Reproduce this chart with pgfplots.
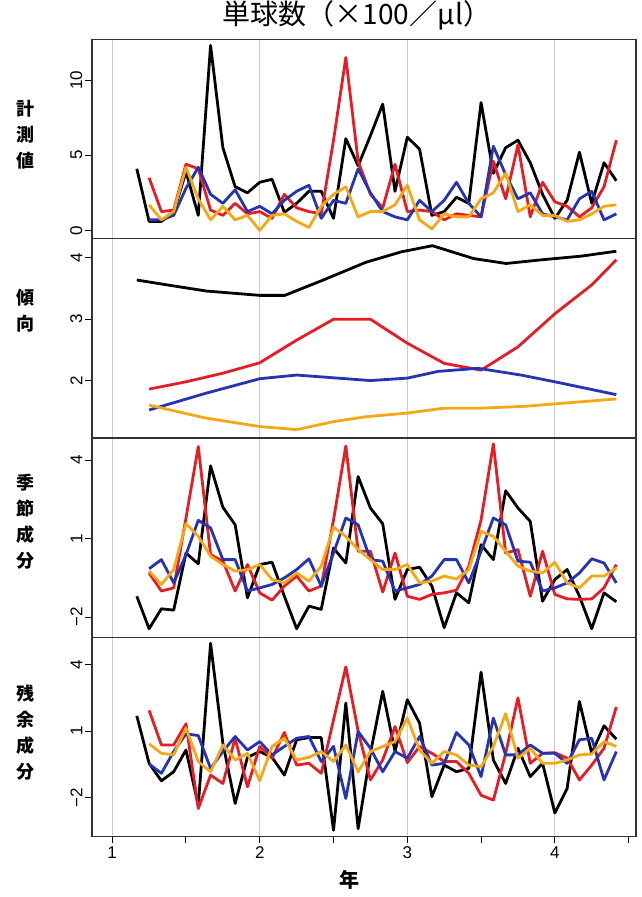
\documentclass[border=0pt]{standalone}
\usepackage{fontspec}
\setmainfont{Liberation Sans}
\newfontfamily\jp{Noto Sans CJK JP}
\usepackage{pgfplots}
\usepackage{pgfplotstable}
\pgfplotsset{compat=1.18}
\definecolor{cbk}{RGB}{0,0,0}
\definecolor{crd}{RGB}{232,28,36}
\definecolor{cbl}{RGB}{36,52,178}
\definecolor{cor}{RGB}{245,168,20}

\pgfplotstableread{
t      bk    rd    bl    or
1.1667 4.1   nan   nan   nan
1.25   0.6   3.5   0.7   1.7
1.3333 0.6   1.25  0.7   0.7
1.4167 1.2   1.35  1.0   1.25
1.5    3.9   4.4   2.8   4.2
1.5833 1.0   4.1   4.2   2.1
1.6667 12.3  1.35  2.4   0.7
1.75   5.5   1.0   1.8   1.6
1.8333 2.9   1.8   2.7   0.7
1.9167 2.5   1.1   1.25  1.0
2.0    3.2   1.25  1.6   0.0
2.0833 3.4   0.8   1.1   1.0
2.1667 1.2   2.4   2.0   1.1
2.25   1.8   1.5   2.6   0.6
2.3333 2.6   1.25  3.0   0.2
2.4167 2.6   1.1   0.8   1.6
2.5    0.8   6.0   2.0   2.4
2.5833 6.1   11.5  1.8   2.9
2.6667 4.3   4.6   4.1   0.9
2.75   6.3   2.4   2.5   1.25
2.8333 8.4   1.5   1.25  1.25
2.9167 2.6   4.4   0.9   1.7
3.0    6.2   1.25  0.7   3.0
3.0833 5.4   1.35  2.0   0.7
3.1667 1.0   1.25  1.25  0.1
3.25   1.25  0.7   2.0   1.1
3.3333 2.2   1.1   3.2   0.9
3.4167 1.8   1.0   1.8   0.9
3.5    8.5   0.9   0.9   2.1
3.5833 3.8   4.6   5.6   2.5
3.6667 5.5   2.1   3.7   3.8
3.75   6.0   5.7   2.1   1.25
3.8333 4.5   0.9   2.5   1.7
3.9167 2.4   3.2   1.1   1.0
4.0    0.8   1.9   0.9   1.0
4.0833 2.0   1.6   0.7   0.6
4.1667 5.2   0.9   2.1   0.7
4.25   1.8   1.5   2.6   1.1
4.3333 4.5   2.9   0.7   1.6
4.4167 3.3   6.0   1.1   1.7
}\obs

\pgfplotstableread{
t      bk     rd     bl     or
1.1667 -1.2   nan    nan    nan
1.25   -2.44  -0.31  -0.15  -0.24
1.3333 -1.68  -1.0   0.2    -0.75
1.4167 -1.73  -0.88  -0.69  -0.18
1.5    0.45   1.79   0.39   1.57
1.5833 0.04   4.52   1.7    1.09
1.6667 3.78   0.39   1.41   0.33
1.75   2.2    0.14   0.2    0.01
1.8333 1.53   -1.0   0.2    -0.24
1.9167 -1.26  0.01   -1.0   -0.18
2.0    0.01   -1.07  -0.88  0.01
2.0833 0.1    -1.35  -0.75  -0.56
2.1667 -1.2   -0.81  -0.5   -0.69
2.25   -2.44  -0.43  -0.18  -0.31
2.3333 -1.58  -1.0   0.23   -0.62
2.4167 -1.7   -0.81  -0.81  -0.05
2.5    0.64   1.72   0.45   1.44
2.5833 0.07   4.54   1.79   1.09
2.6667 3.37   0.52   1.53   0.58
2.75   2.17   0.52   0.2    0.2
2.8333 1.57   -1.04  0.14   -0.18
2.9167 -1.32  0.45   -1.0   -0.18
3.0    -0.18  -1.2   -0.88  0.01
3.0833 -0.09  -1.32  -0.75  -0.69
3.1667 -0.81  -1.13  -0.43  -0.62
3.25   -2.4   -1.07  0.2    -0.43
3.3333 -1.07  -0.97  0.2    -0.54
3.4167 -1.45  -0.05  -0.69  -0.18
3.5    0.77   1.72   0.52   1.28
3.5833 0.2    4.62   1.79   1.09
3.6667 2.83   0.45   1.53   0.52
3.75   2.17   0.58   0.14   -0.05
3.8333 1.66   -1.2   0.1    -0.24
3.9167 -1.39  0.52   -1.0   -0.31
4.0    -0.56  -1.13  -0.88  0.1
4.0833 -0.18  -1.3   -0.69  -0.69
4.1667 -1.2   -1.32  -0.31  -0.88
4.25   -2.44  -1.3   0.23   -0.43
4.3333 -1.07  -0.88  0.07   -0.43
4.4167 -1.41  0.01   -0.69  -0.12
}\seas

\pgfplotstableread{
t      bk     rd     bl     or
1.1667 1.69   nan    nan    nan
1.25   -0.45  1.94   -0.48  0.43
1.3333 -1.24  0.38   -0.9   0.0
1.4167 -0.83  0.38   0.08   -0.07
1.5    0.15   1.33   0.88   1.14
1.5833 -2.34  -2.49  0.8    -0.37
1.6667 4.96   -0.98  -0.68  -0.83
1.75   0.46   -1.36  0.08   0.38
1.8333 -2.26  0.68   0.76   -0.3
1.9167 -0.18  -1.51  0.15   0.0
2.0    0.08   0.31   0.53   -1.24
2.0833 -0.18  -0.22  -0.07  0.31
2.1667 -0.98  0.94   0.31   0.68
2.25   0.61   -0.53  0.68   -0.3
2.3333 0.71   -0.45  0.76   -0.18
2.4167 0.71   -0.9   -0.37  0.08
2.5    -3.47  1.51   0.31   -0.37
2.5833 2.27   3.9    -2.04  0.38
2.6667 -3.4   1.0    0.98   -0.83
2.75   0.0    -1.2   0.23   0.08
2.8333 2.8    -0.3   -0.83  0.31
2.9167 0.08   1.21   0.08   0.53
3.0    2.42   -0.42  -0.22  1.59
3.0833 1.36   0.31   0.76   0.15
3.1667 -1.96  0.0    -0.53  -0.45
3.25   -0.53  -0.37  -0.45  0.08
3.3333 -0.83  -0.37  0.94   -0.07
3.4167 -0.68  -0.9   0.38   -0.53
3.5    3.66   -1.89  -1.05  -0.6
3.5833 -0.3   -2.11  1.59   0.31
3.6667 -1.36  0.0    -0.07  1.79
3.75   0.23   2.5    -0.07  -0.22
3.8333 -1.05  -0.45  0.38   0.23
3.9167 -0.45  0.0    0.0    -0.45
4.0    -2.69  0.03   0.0    -0.45
4.0833 -1.58  -0.22  -0.45  -0.3
4.1667 2.34   -1.2   0.61   -0.07
4.25   0.0    -0.53  0.68   -0.03
4.3333 1.24   0.23   -1.2   0.53
4.4167 0.64   2.09   0.08   0.31
}\resid

\pgfplotsset{
  panel/.style={
    scale only axis, width=544pt, height=199.35pt,
    xmin=0.863, xmax=4.55,
    anchor=north west,
    axis line style={line width=1.2pt, draw=black!80},
    xtick={1,2,3,4}, xmajorgrids,
    major grid style={draw=black!20, line width=1pt},
    tick align=outside, major tick length=6.5pt, minor tick length=6.5pt,
    ytick pos=left, xtick pos=bottom,
    every tick/.style={black, line width=1pt},
    /pgf/number format/assume math mode=true,
    yticklabel style={rotate=90, anchor=south, font=\fontsize{17}{20}\selectfont, inner sep=3pt},
    xticklabel style={font=\fontsize{17}{20}\selectfont, inner sep=3pt},
    every axis plot/.append style={line width=2.8pt, line join=round, no markers},
    every axis y label/.style={at={(axis description cs:-0.123,#1)}, anchor=center, align=center,
      font=\jp\bfseries\fontsize{18}{26}\selectfont},
  },
  panel/.default=0.5,
  notx/.style={xticklabels={}, major x tick style={draw=none}},
}

\begin{document}
\begin{tikzpicture}
\useasboundingbox (-92pt,39.3pt) rectangle (549pt,-857.7pt);

% panel 1: observed
\begin{axis}[panel=0.52, notx, at={(0pt,0pt)},
  ymin=-0.55, ymax=12.71, ytick={0,5,10},
  ylabel={計\\測\\値},
  title={\jp\fontsize{28}{28}\selectfont 単球数（×100／μl）},
  title style={at={(axis description cs:0.487,1)}, anchor=center, yshift=18pt}]
\addplot[cbk] table[x=t,y=bk]{\obs};
\addplot[crd] table[x=t,y=rd]{\obs};
\addplot[cbl] table[x=t,y=bl]{\obs};
\addplot[cor] table[x=t,y=or]{\obs};
\end{axis}

% panel 2: trend
\begin{axis}[panel=0.64, notx, at={(0pt,-199.35pt)},
  ymin=1.063, ymax=4.315, ytick={2,3,4},
  ylabel={傾\\向}]
\addplot[cbk] coordinates {(1.1667,3.64) (1.4,3.55) (1.64,3.46) (2.0,3.39) (2.17,3.39) (2.43,3.64) (2.72,3.93) (2.96,4.10) (3.17,4.20) (3.45,3.99) (3.67,3.91) (3.91,3.97) (4.18,4.03) (4.4167,4.11)};
\addplot[crd] coordinates {(1.25,1.86) (1.5,1.98) (1.75,2.12) (2.0,2.29) (2.25,2.66) (2.5,3.0) (2.75,3.0) (3.0,2.61) (3.25,2.28) (3.5,2.17) (3.75,2.55) (4.0,3.09) (4.25,3.56) (4.4167,3.97)};
\addplot[cbl] coordinates {(1.25,1.52) (1.63,1.79) (2.0,2.03) (2.25,2.09) (2.75,2.0) (3.0,2.04) (3.21,2.15) (3.48,2.2) (3.77,2.09) (4.0,1.98) (4.4167,1.77)};
\addplot[cor] coordinates {(1.25,1.6) (1.63,1.39) (2.0,1.25) (2.25,1.2) (2.5,1.33) (2.72,1.41) (3.0,1.47) (3.25,1.55) (3.5,1.55) (3.8,1.58) (4.0,1.62) (4.4167,1.70)};
\end{axis}

% panel 3: seasonal
\begin{axis}[panel=0.58, notx, at={(0pt,-398.7pt)},
  ymin=-2.77, ymax=4.845, ytick={-2,1,4}, yticklabels={−2,1,4},
  ylabel={季\\節\\成\\分}]
\addplot[cbk] table[x=t,y=bk]{\seas};
\addplot[crd] table[x=t,y=rd]{\seas};
\addplot[cbl] table[x=t,y=bl]{\seas};
\addplot[cor] table[x=t,y=or]{\seas};
\end{axis}

% panel 4: remainder
\begin{axis}[panel=0.52, at={(0pt,-598.05pt)},
  ymin=-3.76, ymax=5.23, ytick={-2,1,4}, yticklabels={−2,1,4},
  minor xtick={1.5,2.5,3.5,4.5},
  ylabel={残\\余\\成\\分},
  xlabel={年},
  every axis x label/.style={at={(axis description cs:0.474,0)}, anchor=center, yshift=-43pt,
    font=\jp\bfseries\fontsize{20}{20}\selectfont}]
\addplot[cbk] table[x=t,y=bk]{\resid};
\addplot[crd] table[x=t,y=rd]{\resid};
\addplot[cbl] table[x=t,y=bl]{\resid};
\addplot[cor] table[x=t,y=or]{\resid};
\end{axis}
\end{tikzpicture}
\end{document}
